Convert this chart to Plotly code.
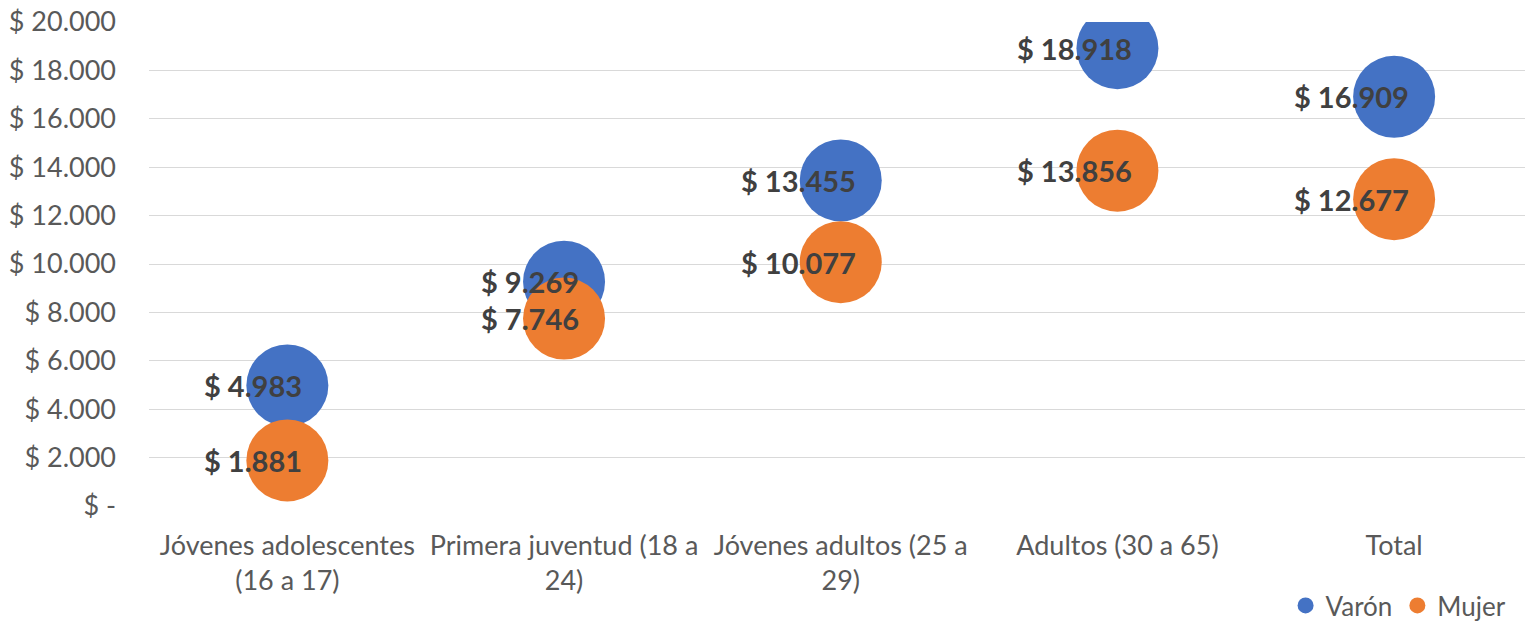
import plotly.graph_objects as go

# Ingreso promedio por grupo de edad y sexo
categorias = ["Jóvenes adolescentes<br>(16 a 17)", "Primera juventud (18 a<br>24)",
              "Jóvenes adultos (25 a<br>29)", "Adultos (30 a 65)", "Total"]
varon = [4983, 9269, 13455, 18918, 16909]
mujer = [1881, 7746, 10077, 13856, 12677]

tick_vals = [0, 2000, 4000, 6000, 8000, 10000, 12000, 14000, 16000, 18000, 20000]
tick_text = ["$ -", "$ 2.000", "$ 4.000", "$ 6.000", "$ 8.000", "$ 10.000",
             "$ 12.000", "$ 14.000", "$ 16.000", "$ 18.000", "$ 20.000"]


def fmt(v):
    return "$ " + f"{v:,}".replace(",", ".")


fig = go.Figure()
fig.add_trace(go.Scatter(x=categorias, y=varon, mode="markers", name="Varón",
                         marker=dict(size=82, color="#4472C4", line=dict(width=0), opacity=1)))
fig.add_trace(go.Scatter(x=categorias, y=mujer, mode="markers", name="Mujer",
                         marker=dict(size=82, color="#ED7D31", line=dict(width=0), opacity=1)))

for serie in (varon, mujer):
    for c, v in zip(categorias, serie):
        fig.add_annotation(x=c, y=v, text="<b>" + fmt(v) + "</b>", showarrow=False,
                           xanchor="right", yanchor="middle", xshift=17, yshift=0,
                           font=dict(family="Lato", size=29, color="#404040"))

fig.update_xaxes(type="category", range=[-0.5, 4.473], showgrid=False, showline=False,
                 zeroline=False, ticks="", automargin=False,
                 tickfont=dict(family="Lato", size=27, color="#595959"),
                 ticklabelstandoff=21)
fig.update_yaxes(range=[0, 20000], tickvals=tick_vals, ticktext=tick_text,
                 showgrid=True, gridcolor="#D9D9D9", gridwidth=1.3, zeroline=False,
                 showline=False, ticks="", ticklabelstandoff=32, automargin=False,
                 tickfont=dict(family="Lato", size=27, color="#595959"))

fig.update_layout(
    width=1525, height=623,
    margin=dict(l=149, r=0, t=22, b=117),
    plot_bgcolor="white", paper_bgcolor="white",
    showlegend=True,
    legend=dict(orientation="h", x=0.826, xanchor="left",
                yref="container", y=0.028, yanchor="middle",
                font=dict(family="Lato", size=26, color="#595959"),
                itemwidth=30, tracegroupgap=0),
)

fig.write_html("out.html", config={"displayModeBar": False},
               post_script="document.body.style.margin='0';")
